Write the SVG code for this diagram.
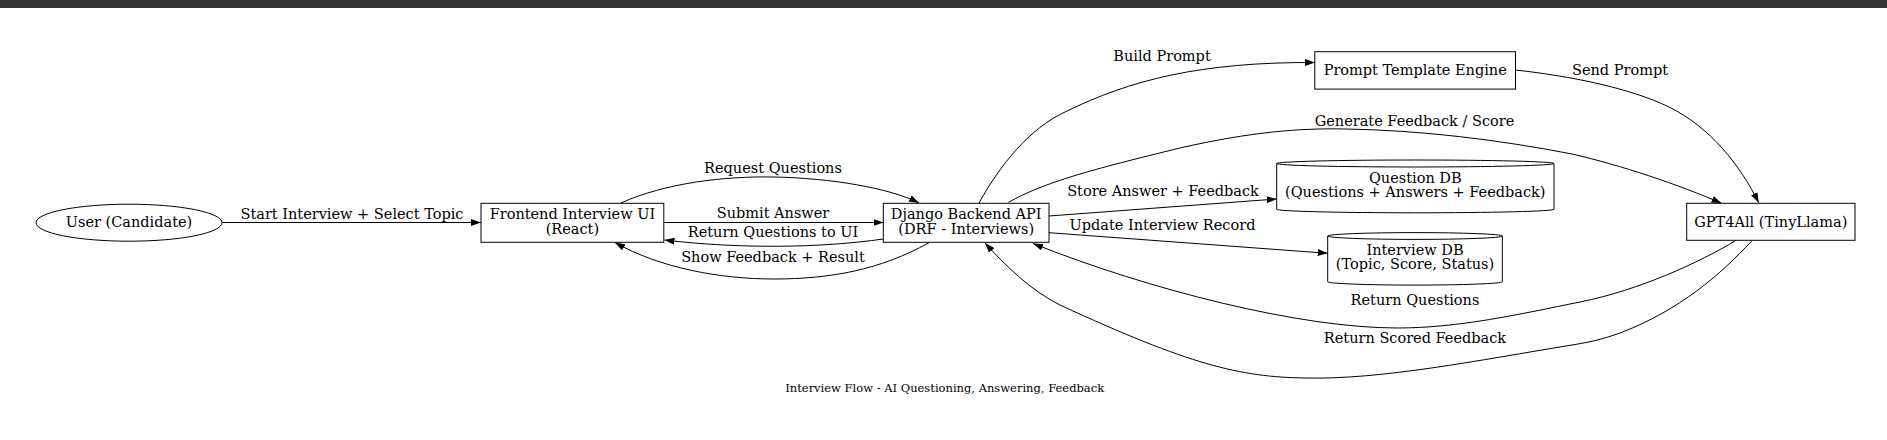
<svg xmlns="http://www.w3.org/2000/svg" width="1887" height="440" viewBox="0 0 1887 440">
<defs>
<marker id="ah" viewBox="0 0 10 7" refX="10" refY="3.5" markerWidth="10" markerHeight="7" markerUnits="userSpaceOnUse" orient="auto">
<path d="M0,0 L10,3.5 L0,7 Z" fill="#000"/>
</marker>
<style>
.node{fill:#fff;stroke:#000;stroke-width:1}
.edge{fill:none;stroke:#000;stroke-width:1;marker-end:url(#ah)}
text{font-family:"DejaVu Serif","Liberation Serif",serif;font-size:14.5px;fill:#000;text-anchor:middle}
.cap{font-size:11.5px}
</style>
</defs>
<rect x="0" y="0" width="1887" height="440" fill="#fff"/>
<rect x="0" y="0" width="1887" height="8" fill="#333"/>

<g id="connectors">
<path class="edge" d="M222 222.5 L481 222.5"/>
<text x="352" y="218.5">Start Interview + Select Topic</text>
<path class="edge" d="M621 203 C665 183, 725 176, 774 177 C830 178, 890 188, 919 203"/>
<text x="773" y="173">Request Questions</text>
<path class="edge" d="M664 222.5 L883.5 222.5"/>
<text x="773" y="218">Submit Answer</text>
<path class="edge" d="M883.5 239 C820 248, 740 249, 664.5 240"/>
<text x="773" y="236.5">Return Questions to UI</text>
<path class="edge" d="M929 242.7 C880 270, 830 279, 774 279 C720 279, 660 268, 615 242.5"/>
<text x="773" y="262">Show Feedback + Result</text>
<path class="edge" d="M979 203 C1000 165, 1030 128, 1065 112 C1130 80, 1200 62, 1315 62.5"/>
<text x="1162" y="60.5">Build Prompt</text>
<path class="edge" d="M1008.5 202.3 C1045 182, 1090 170, 1180 148 C1250 132, 1300 128, 1345 129 C1420 130, 1500 140, 1572 154 C1620 165, 1680 185, 1721.5 203.3"/>
<text x="1414.5" y="126">Generate Feedback / Score</text>
<path class="edge" d="M1049 216 L1276.7 199"/>
<text x="1163" y="195.5">Store Answer + Feedback</text>
<path class="edge" d="M1049 232.7 L1327.7 253.3"/>
<text x="1162.5" y="229.5">Update Interview Record</text>
<path class="edge" d="M1515.5 70 C1570 76, 1630 88, 1669 107 C1710 127, 1740 165, 1758.7 202.7"/>
<text x="1620" y="75">Send Prompt</text>
<path class="edge" d="M1735.5 240.7 C1700 262, 1640 290, 1580 302 C1520 314, 1460 328, 1397 328 C1300 328, 1150 290, 1033 243.5"/>
<text x="1415" y="305">Return Questions</text>
<path class="edge" d="M1752 240.7 C1720 275, 1680 310, 1620 333 C1600 340, 1590 342, 1572 345 C1480 360, 1380 380, 1305 378 C1240 377, 1190 365, 1060 305 C1030 290, 1005 265, 985 243"/>
<text x="1415" y="343">Return Scored Feedback</text>
</g>

<g id="user">
<ellipse class="node" cx="129" cy="222.7" rx="93" ry="18.5"/>
<text x="129" y="227">User (Candidate)</text>
</g>
<g id="frontend">
<rect class="node" x="481" y="203.3" width="182.8" height="39"/>
<text x="572.4" y="219">Frontend Interview UI</text>
<text x="572.4" y="233.5">(React)</text>
</g>
<g id="django">
<rect class="node" x="883.3" y="203.3" width="165.7" height="39"/>
<text x="966.2" y="219">Django Backend API</text>
<text x="966.2" y="233.5">(DRF - Interviews)</text>
</g>
<g id="prompt">
<rect class="node" x="1314.8" y="51.7" width="200.7" height="37.4"/>
<text x="1415.2" y="75">Prompt Template Engine</text>
</g>
<g id="questiondb">
<path class="node" d="M1554 163.5 A138.65 3.5 0 0 1 1276.7 163.5 A138.65 3.5 0 0 1 1554 163.5 L1554 209.3 A138.65 3.5 0 0 1 1276.7 209.3 L1276.7 163.5"/>
<text x="1415.3" y="182.5">Question DB</text>
<text x="1415.3" y="197.3">(Questions + Answers + Feedback)</text>
</g>
<g id="interviewdb">
<path class="node" d="M1502.3 236 A87.3 3.4 0 0 1 1327.7 236 A87.3 3.4 0 0 1 1502.3 236 L1502.3 281.7 A87.3 3.4 0 0 1 1327.7 281.7 L1327.7 236"/>
<text x="1415" y="254.5">Interview DB</text>
<text x="1415" y="269.3">(Topic, Score, Status)</text>
</g>
<g id="gpt4all">
<rect class="node" x="1686.7" y="203.3" width="168.3" height="37"/>
<text x="1770.8" y="226.5">GPT4All (TinyLlama)</text>
</g>
<g id="caption">
<text class="cap" x="944.7" y="391.7">Interview Flow - AI Questioning, Answering, Feedback</text>
</g>
</svg>
